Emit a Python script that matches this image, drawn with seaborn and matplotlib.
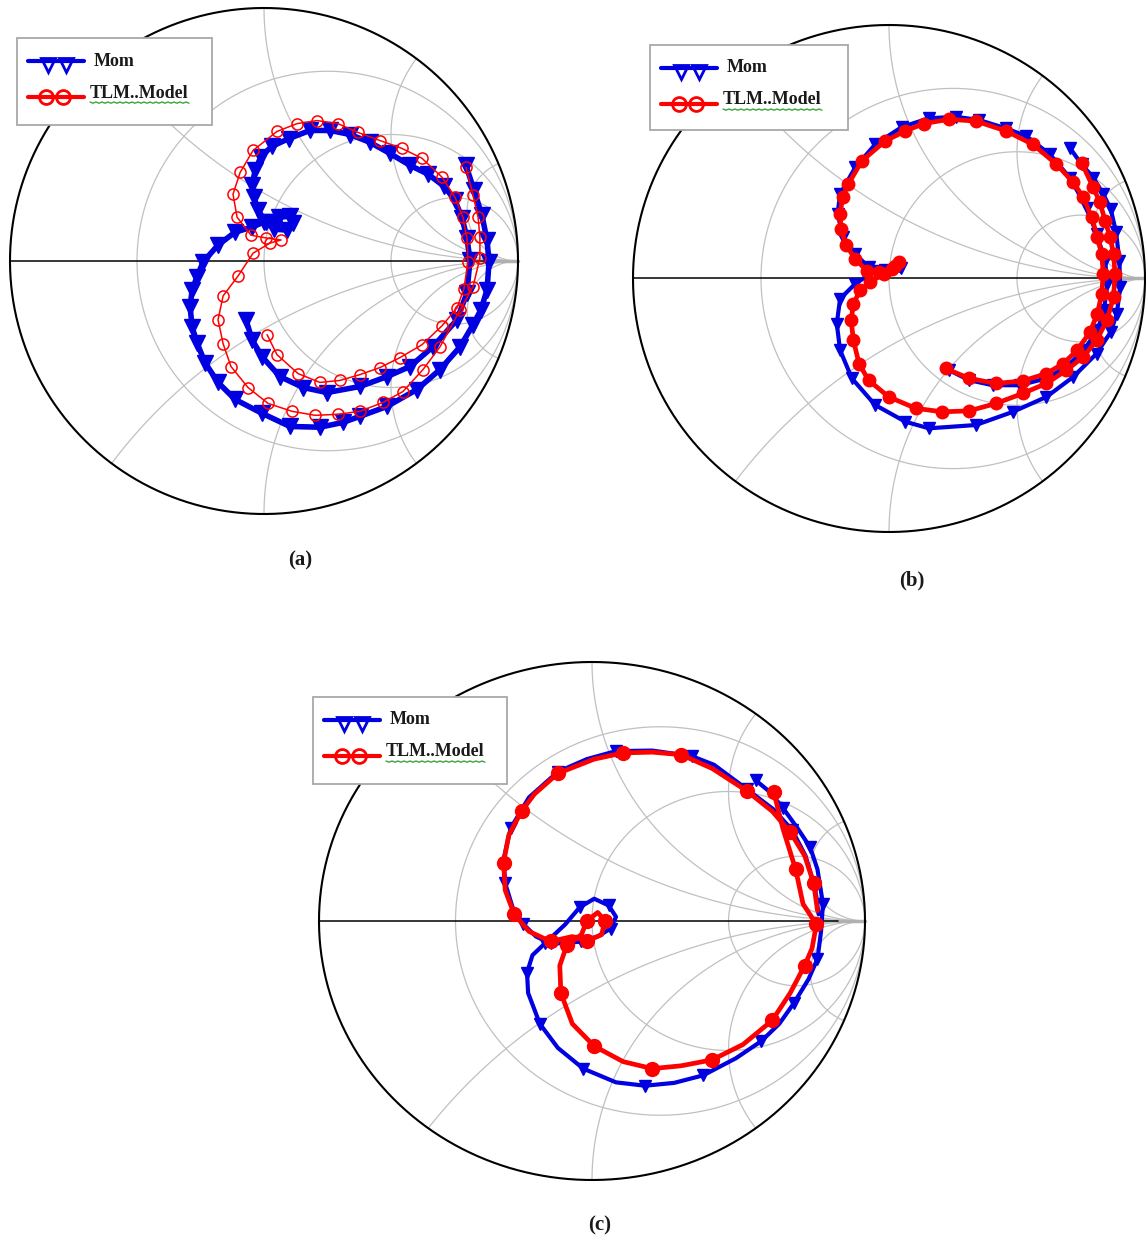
import numpy as np
import matplotlib
matplotlib.use("Agg")
import matplotlib.pyplot as plt
import seaborn as sns
from matplotlib.lines import Line2D
from matplotlib.patches import Rectangle

sns.set_theme(style="white")
plt.rcParams['font.family'] = ['Liberation Serif', 'DejaVu Serif']

# ---------------- data (reflection coefficient, real / imaginary) ----------------
a_mom_re = [0.795,0.827,0.858,0.878,0.886,0.878,0.854,0.823,0.772,0.693,0.602,0.484,0.378,0.311,0.220,0.102,-0.008,-0.114,-0.181,-0.232,-0.264,-0.283,-0.291,-0.283,-0.264,-0.240,-0.181,-0.114,-0.047,0.000,0.059,0.102,0.114,0.091,0.039,0.008,-0.024,-0.039,-0.047,-0.035,-0.012,0.031,0.098,0.181,0.260,0.339,0.417,0.496,0.575,0.646,0.709,0.752,0.780,0.799,0.811,0.799,0.760,0.665,0.575,0.484,0.378,0.248,0.154,0.063,-0.008,-0.047,-0.071]
a_mom_im = [0.378,0.280,0.181,0.083,-0.004,-0.114,-0.193,-0.252,-0.339,-0.429,-0.508,-0.575,-0.614,-0.638,-0.657,-0.654,-0.602,-0.547,-0.480,-0.402,-0.323,-0.260,-0.181,-0.114,-0.063,-0.004,0.063,0.114,0.134,0.154,0.173,0.177,0.150,0.122,0.126,0.154,0.201,0.252,0.299,0.358,0.413,0.453,0.484,0.516,0.516,0.500,0.469,0.425,0.378,0.343,0.295,0.240,0.169,0.091,0.004,-0.126,-0.232,-0.339,-0.417,-0.457,-0.496,-0.520,-0.500,-0.457,-0.378,-0.311,-0.232]
a_tlm_re = [0.795,0.823,0.843,0.850,0.850,0.823,0.772,0.693,0.626,0.547,0.469,0.378,0.291,0.201,0.110,0.016,-0.063,-0.130,-0.161,-0.181,-0.161,-0.102,-0.043,0.024,0.067,0.008,-0.051,-0.106,-0.122,-0.094,-0.043,0.051,0.130,0.209,0.291,0.370,0.457,0.543,0.622,0.701,0.752,0.783,0.799,0.803,0.787,0.760,0.701,0.622,0.535,0.457,0.378,0.299,0.220,0.134,0.051,0.012]
a_tlm_im = [0.370,0.260,0.173,0.094,0.012,-0.102,-0.193,-0.339,-0.429,-0.516,-0.559,-0.594,-0.606,-0.610,-0.594,-0.563,-0.500,-0.417,-0.327,-0.232,-0.138,-0.059,0.031,0.071,0.083,0.091,0.102,0.173,0.264,0.350,0.437,0.512,0.543,0.555,0.543,0.508,0.476,0.445,0.406,0.331,0.252,0.173,0.091,-0.004,-0.110,-0.185,-0.256,-0.331,-0.382,-0.421,-0.449,-0.472,-0.480,-0.445,-0.370,-0.291]

b_mom_re = [0.706,0.752,0.798,0.837,0.866,0.887,0.900,0.903,0.890,0.866,0.811,0.720,0.615,0.484,0.339,0.156,0.064,-0.054,-0.145,-0.191,-0.204,-0.191,-0.132,-0.054,0.038,0.048,-0.014,-0.080,-0.132,-0.178,-0.201,-0.191,-0.132,-0.054,0.051,0.156,0.261,0.353,0.457,0.536,0.628,0.706,0.772,0.811,0.844,0.853,0.840,0.814,0.761,0.693,0.615,0.510,0.405,0.313,0.235]
b_mom_im = [0.516,0.451,0.398,0.333,0.274,0.182,0.071,-0.034,-0.139,-0.211,-0.296,-0.388,-0.467,-0.526,-0.578,-0.591,-0.565,-0.499,-0.394,-0.283,-0.178,-0.080,-0.021,0.031,0.051,0.042,0.034,0.045,0.097,0.163,0.254,0.333,0.438,0.529,0.598,0.632,0.638,0.625,0.592,0.562,0.490,0.398,0.280,0.176,0.071,-0.021,-0.126,-0.204,-0.283,-0.349,-0.394,-0.421,-0.421,-0.401,-0.362]
b_tlm_re = [0.752,0.798,0.824,0.844,0.864,0.877,0.883,0.877,0.851,0.811,0.759,0.693,0.615,0.523,0.418,0.313,0.208,0.104,-0.001,-0.080,-0.117,-0.139,-0.148,-0.139,-0.113,-0.073,-0.021,0.025,0.038,0.012,-0.041,-0.087,-0.132,-0.169,-0.187,-0.191,-0.181,-0.159,-0.106,-0.014,0.064,0.136,0.235,0.339,0.457,0.562,0.654,0.720,0.759,0.792,0.814,0.831,0.837,0.831,0.814,0.785,0.735,0.680,0.615,0.523,0.418,0.313,0.221]
b_tlm_im = [0.457,0.359,0.300,0.228,0.163,0.097,0.018,-0.073,-0.165,-0.244,-0.309,-0.362,-0.414,-0.453,-0.493,-0.522,-0.526,-0.512,-0.467,-0.401,-0.336,-0.244,-0.165,-0.100,-0.047,-0.014,0.018,0.051,0.064,0.038,0.025,0.031,0.077,0.134,0.195,0.254,0.320,0.372,0.464,0.543,0.582,0.611,0.628,0.621,0.582,0.529,0.451,0.379,0.320,0.241,0.163,0.097,0.018,-0.060,-0.139,-0.211,-0.283,-0.336,-0.375,-0.404,-0.414,-0.394,-0.355]

c_mom_re = [0.600,0.646,0.699,0.753,0.799,0.826,0.846,0.839,0.826,0.793,0.739,0.686,0.620,0.527,0.407,0.301,0.194,0.088,-0.032,-0.125,-0.191,-0.234,-0.238,-0.218,-0.172,-0.098,-0.045,0.008,0.061,0.088,0.068,0.021,-0.039,-0.098,-0.152,-0.205,-0.251,-0.291,-0.318,-0.324,-0.298,-0.231,-0.125,-0.019,0.088,0.221,0.367,0.447,0.566,0.666,0.733,0.782,0.816,0.830]
c_mom_im = [0.543,0.503,0.437,0.358,0.285,0.199,0.066,-0.040,-0.146,-0.225,-0.318,-0.397,-0.464,-0.530,-0.596,-0.625,-0.636,-0.623,-0.570,-0.490,-0.397,-0.278,-0.199,-0.132,-0.086,-0.013,0.053,0.086,0.060,0.016,-0.029,-0.060,-0.079,-0.086,-0.086,-0.060,-0.013,0.053,0.146,0.238,0.358,0.477,0.576,0.625,0.656,0.658,0.636,0.603,0.510,0.430,0.351,0.252,0.132,0.026]
c_tlm_re = [0.666,0.699,0.746,0.773,0.822,0.806,0.779,0.726,0.660,0.553,0.440,0.327,0.221,0.114,0.008,-0.072,-0.114,-0.118,-0.092,-0.039,-0.019,0.021,0.048,0.035,-0.019,-0.072,-0.152,-0.231,-0.285,-0.318,-0.324,-0.305,-0.258,-0.211,-0.125,0.008,0.114,0.221,0.327,0.440,0.566,0.660,0.726,0.779,0.812,0.826]
c_tlm_im = [0.497,0.358,0.199,0.066,-0.013,-0.106,-0.172,-0.278,-0.384,-0.477,-0.536,-0.559,-0.570,-0.543,-0.483,-0.397,-0.278,-0.172,-0.093,-0.053,0.000,0.033,0.000,-0.053,-0.077,-0.060,-0.079,-0.040,0.026,0.119,0.225,0.331,0.424,0.490,0.570,0.625,0.649,0.652,0.642,0.589,0.503,0.424,0.344,0.252,0.146,0.040]

panel_labels = ["(a)", "(b)", "(c)"]
series_labels = ["Mom", "TLM..Model"]

# resistance / reactance grid values of the Smith chart
r_grid = [1/3, 1, 3]
x_grid = [0.5, 1, 2, 5, -0.5, -1, -2, -5]

W, H = 1146, 1246
fig = plt.figure(figsize=(W/100, H/100), dpi=100)
GRID = "#c0c0c0"
BLUE = "#0000e0"
RED = "#ff0000"


def fx(px):
    return px / W


def fy(py):
    return 1 - py / H


def box(x0, y0, x1, y1):
    return [fx(x0), fy(y1), (x1 - x0) / W, (y1 - y0) / H]


def smith(ax):
    ax.set_xlim(-1, 1)
    ax.set_ylim(-1, 1)
    ax.axis('off')
    big = np.concatenate([-np.logspace(4, -4, 500), np.logspace(-4, 4, 500)])
    for r in r_grid:
        g = (r + 1j * big - 1) / (r + 1j * big + 1)
        ax.plot(g.real, g.imag, color=GRID, lw=0.9, zorder=1)
    rr = np.concatenate([[0], np.logspace(-4, 4, 800)])
    for x in x_grid:
        g = (rr + 1j * x - 1) / (rr + 1j * x + 1)
        ax.plot(g.real, g.imag, color=GRID, lw=0.9, zorder=1)
    t = np.linspace(0, 2 * np.pi, 600)
    ax.plot(np.cos(t), np.sin(t), color='black', lw=1.5, zorder=2, clip_on=False)
    ax.plot([-1, 0.9], [0, 0], color='black', lw=1.1, zorder=2, clip_on=False)
    ax.plot([0.9, 1], [0, 0], color='#b0b0b0', lw=2.5, zorder=1, clip_on=False)


def curve(ax, xs, ys, color, lw, marker, ms, mfc, mew, every):
    sns.lineplot(x=xs, y=ys, sort=False, estimator=None, ax=ax, color=color, lw=lw,
                 marker=marker, markersize=ms, markerfacecolor=mfc, markeredgecolor=color,
                 markeredgewidth=mew, markevery=every, zorder=3)


def legend_box(lx0, ly0, lx1, ly1):
    fig.add_artist(Rectangle((fx(lx0), fy(ly1)), (lx1 - lx0) / W, (ly1 - ly0) / H,
                             transform=fig.transFigure, facecolor='white',
                             edgecolor='#a8a8a8', lw=1.3, zorder=5))
    # Mom entry
    y1 = ly0 + 23
    fig.add_artist(Line2D([fx(lx0 + 11), fx(lx0 + 67)], [fy(y1), fy(y1)], color=BLUE, lw=3,
                          transform=fig.transFigure, zorder=6))
    fig.add_artist(Line2D([fx(lx0 + 31), fx(lx0 + 49)], [fy(y1 + 4), fy(y1 + 4)], lw=0,
                          marker='v', ms=10, mfc='none', mec=BLUE, mew=2,
                          transform=fig.transFigure, zorder=6))
    fig.text(fx(lx0 + 77), fy(y1), series_labels[0], ha='left', va='center',
             fontsize=13, fontweight='bold', color='#1a1a1a', zorder=7)
    # TLM entry
    y2 = ly0 + 59
    fig.add_artist(Line2D([fx(lx0 + 11), fx(lx0 + 67)], [fy(y2), fy(y2)], color=RED, lw=3,
                          transform=fig.transFigure, zorder=6))
    fig.add_artist(Line2D([fx(lx0 + 29), fx(lx0 + 46)], [fy(y2), fy(y2)], lw=0,
                          marker='o', ms=10, mfc='none', mec=RED, mew=2,
                          transform=fig.transFigure, zorder=6))
    tx0 = lx0 + 73
    fig.text(fx(tx0), fy(ly0 + 55), series_labels[1], ha='left', va='center',
             fontsize=13, fontweight='bold', color='#1a1a1a', zorder=7)
    # spell-check style green wavy underline
    xs = np.arange(tx0, tx0 + 101, 3)
    ys = ly0 + 64 + 1.2 * (np.arange(len(xs)) % 2)
    fig.add_artist(Line2D(fx(xs), fy(ys), color='#3aa63a', lw=1.0,
                          transform=fig.transFigure, zorder=6))


panels = [
    dict(box=(10, 8, 518, 514), mom=(a_mom_re, a_mom_im), tlm=(a_tlm_re, a_tlm_im),
         mom_style=(4.0, 'v', 11, BLUE, 1, 1), tlm_style=(1.1, 'o', 8, 'none', 1.1, 1),
         leg=(17, 38, 212, 125), lab=(300, 560)),
    dict(box=(633, 25, 1145, 532), mom=(b_mom_re, b_mom_im), tlm=(b_tlm_re, b_tlm_im),
         mom_style=(3.0, 'v', 9, BLUE, 1, 1), tlm_style=(3.4, 'o', 9, RED, 1, 1),
         leg=(650, 45, 848, 130), lab=(912, 580)),
    dict(box=(319, 662, 865, 1180), mom=(c_mom_re, c_mom_im), tlm=(c_tlm_re, c_tlm_im),
         mom_style=(3.0, 'v', 9, BLUE, 1, 2), tlm_style=(3.4, 'o', 10, RED, 1, 2),
         leg=(313, 697, 507, 784), lab=(600, 1225)),
]

for i, p in enumerate(panels):
    ax = fig.add_axes(box(*p['box']))
    smith(ax)
    curve(ax, *p['mom'], BLUE, *p['mom_style'])
    curve(ax, *p['tlm'], RED, *p['tlm_style'])
    legend_box(*p['leg'])
    fig.text(fx(p['lab'][0]), fy(p['lab'][1]), panel_labels[i], ha='center', va='center',
             fontsize=15, fontweight='bold', color='#1a1a1a')

fig.savefig("out.png", dpi=100)
